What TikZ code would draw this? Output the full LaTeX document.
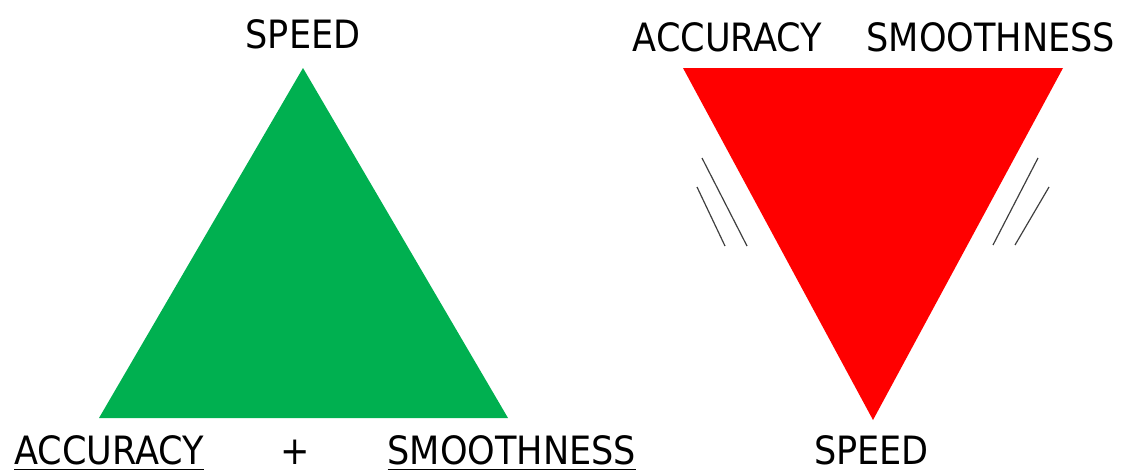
\documentclass[tikz,border=0pt]{standalone}
\usepackage{fontspec}
\setmainfont{DejaVu Sans Condensed}
\definecolor{tgreen}{HTML}{00B050}
\definecolor{tred}{HTML}{FF0000}
\begin{document}
\begin{tikzpicture}[x=1pt,y=-1pt,
  lbl/.style={inner sep=0pt,anchor=base,font=\fontsize{39}{44}\selectfont},
  hatch/.style={draw=black!75,line width=1.2pt},
  uline/.style={draw=black,line width=1pt}]
\useasboundingbox (0,0) rectangle (1121,472);
% triangles
\coordinate (gA) at (303,68);
\coordinate (gB) at (99,418);
\coordinate (gC) at (508,418);
\fill[tgreen] (gA) -- (gB) -- (gC) -- cycle;
\coordinate (rA) at (683,68);
\coordinate (rB) at (1063,68);
\coordinate (rC) at (873,420);
\fill[tred] (rA) -- (rB) -- (rC) -- cycle;
% labels left
\node[lbl] (speed1) at (303,48) {SPEED};
\node[lbl] (acc1) at (109,464.5) {ACCURACY};
\node[lbl] (plus) at (295,464.5) {+};
\node[lbl] (smooth1) at (512,464.5) {SMOOTHNESS};
\draw[uline] ([yshift=-4.5pt]acc1.base west) -- ([yshift=-4.5pt]acc1.base east);
\draw[uline] ([yshift=-4.5pt]smooth1.base west) -- ([yshift=-4.5pt]smooth1.base east);
% labels right
\node[lbl] (acc2) at (727.5,51) {ACCURACY};
\node[lbl] (smooth2) at (991,51) {SMOOTHNESS};
\node[lbl] (speed2) at (871.5,464.5) {SPEED};
% hatch marks
\coordinate (l1a) at (702,158); \coordinate (l1b) at (747,246);
\coordinate (l2a) at (697,187); \coordinate (l2b) at (725,246);
\coordinate (r1a) at (1038,158); \coordinate (r1b) at (993,245);
\coordinate (r2a) at (1049,187); \coordinate (r2b) at (1015,245);
\draw[hatch] (l1a) -- (l1b);
\draw[hatch] (l2a) -- (l2b);
\draw[hatch] (r1a) -- (r1b);
\draw[hatch] (r2a) -- (r2b);
\end{tikzpicture}
\end{document}
